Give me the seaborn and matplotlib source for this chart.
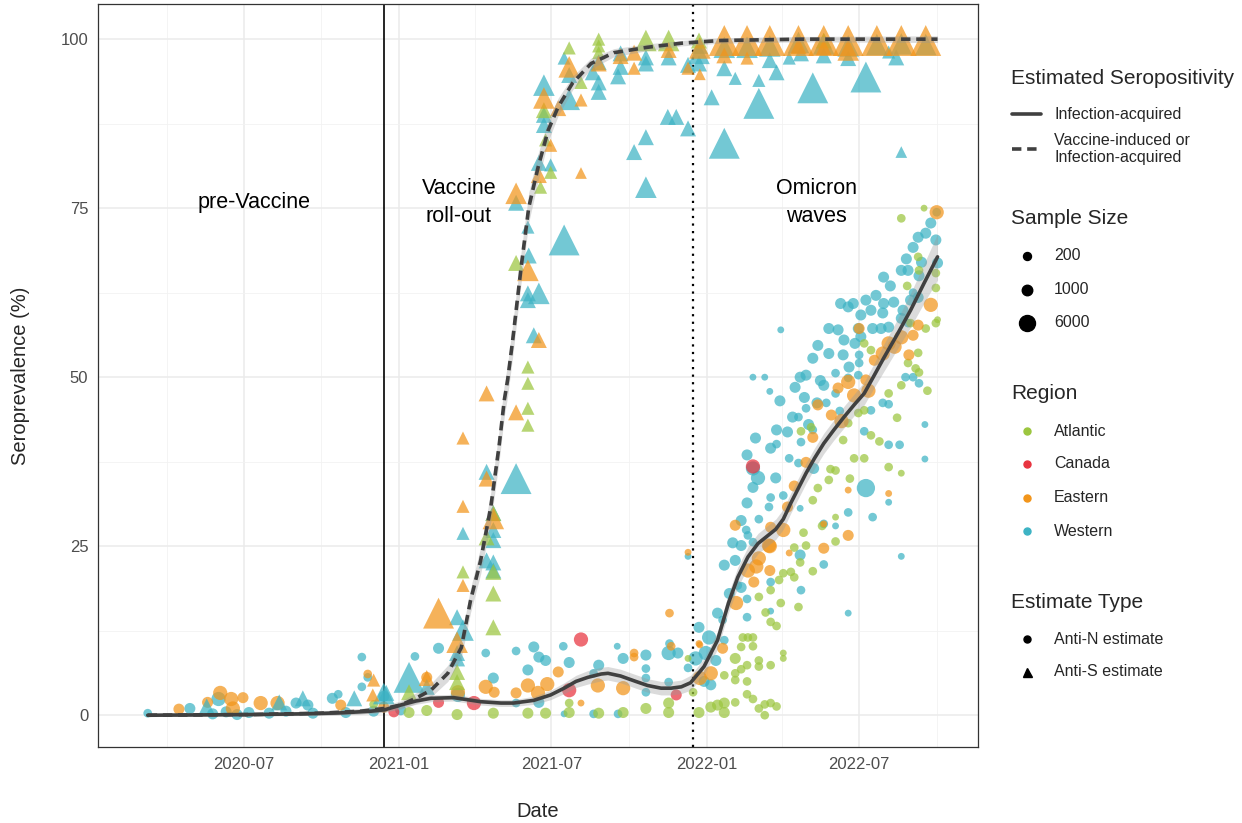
import numpy as np
import pandas as pd
import matplotlib
matplotlib.use("Agg")
import matplotlib.pyplot as plt
import matplotlib.dates as mdates
from matplotlib.colors import PowerNorm
from matplotlib.lines import Line2D
import seaborn as sns

# ------------------------------------------------------------------ data
regions = ["Atlantic", "Canada", "Eastern", "Western"]
region_colors = ["#9CC63F", "#E8343F", "#F2951B", "#3DB3C4"]
estimate_types = ["Anti-N estimate", "Anti-S estimate"]
size_breaks = [200, 1000, 6000]
period_labels = ["pre-Vaccine", "Vaccine\nroll-out", "Omicron\nwaves"]
period_label_dates = ["2020-07-13", "2021-03-13", "2022-05-11"]
vaccine_start = "2020-12-14"
omicron_start = "2021-12-16"

# Western, anti-N
west_n_dates = [
    "2020-03-09", "2020-04-28", "2020-05-25", "2020-06-01", "2020-06-10", "2020-06-23", "2020-07-07",
    "2020-07-31", "2020-08-20", "2020-09-01", "2020-09-15", "2020-09-21", "2020-10-14", "2020-10-21",
    "2020-10-30", "2020-11-18", "2020-11-18", "2020-11-25", "2020-12-02", "2020-12-14", "2021-01-03",
    "2021-01-20", "2021-02-17", "2021-03-12", "2021-04-14", "2021-04-23", "2021-05-20", "2021-05-20",
    "2021-06-03", "2021-06-10", "2021-06-16", "2021-06-16", "2021-06-24", "2021-07-15", "2021-07-22",
    "2021-07-16", "2021-08-20", "2021-08-26", "2021-08-20", "2021-09-18", "2021-09-17", "2021-09-24",
    "2021-10-21", "2021-10-21", "2021-10-21", "2021-10-21", "2021-11-17", "2021-11-18", "2021-11-28",
    "2021-11-17", "2021-12-10", "2021-12-10", "2021-12-23", "2022-01-04", "2021-12-19", "2021-12-31",
    "2021-12-29", "2022-01-06", "2022-01-12", "2022-01-14", "2022-01-22", "2022-01-22", "2022-02-04",
    "2022-02-11", "2022-02-07", "2022-02-11", "2022-01-20", "2022-02-18", "2022-02-18", "2022-03-18",
    "2022-03-18", "2022-04-23", "2022-05-20", "2022-06-18", "2022-04-22", "2022-02-11", "2022-02-17",
    "2022-02-19", "2022-02-25", "2022-03-04", "2022-02-18", "2022-03-18", "2022-04-02", "2022-03-16",
    "2022-02-25", "2022-03-03", "2022-02-25", "2022-02-18", "2022-03-24", "2022-04-09", "2022-04-20",
    "2022-05-08", "2022-03-18", "2022-03-25", "2022-04-23", "2022-05-07", "2022-03-25", "2022-04-07",
    "2022-04-13", "2022-04-20", "2022-04-29", "2022-05-12", "2022-05-23", "2022-06-03", "2022-02-25",
    "2022-03-11", "2022-03-17", "2022-03-30", "2022-04-22", "2022-04-29", "2022-05-20", "2022-06-03",
    "2022-06-18", "2022-06-30", "2022-07-01", "2022-04-22", "2022-05-20", "2022-06-03", "2022-06-18",
    "2022-07-09", "2022-07-17", "2022-08-05", "2022-08-20", "2022-09-17", "2022-09-17", "2022-07-07",
    "2022-07-15", "2022-07-29", "2022-08-05", "2022-08-05", "2022-08-18", "2022-08-25", "2022-09-03",
    "2022-09-10", "2022-05-13", "2022-05-26", "2022-05-07", "2022-06-12", "2022-06-13", "2022-05-26",
    "2022-06-06", "2022-06-19", "2022-07-01", "2022-06-30", "2022-07-03", "2022-07-17", "2022-07-27",
    "2022-08-05", "2022-06-09", "2022-06-18", "2022-06-24", "2022-07-09", "2022-07-21", "2022-07-30",
    "2022-08-11", "2022-07-29", "2022-07-15", "2022-07-03", "2022-08-20", "2022-08-22", "2022-08-28",
    "2022-08-31", "2022-09-09", "2022-07-30", "2022-08-07", "2022-08-20", "2022-08-28", "2022-09-10",
    "2022-09-03", "2022-09-09", "2022-09-18", "2022-09-24", "2022-09-30", "2022-10-02", "2022-10-01",
    "2022-09-03", "2022-04-27", "2022-05-02", "2022-05-16", "2022-06-08", "2022-03-29", "2022-04-16",
    "2022-06-26", "2022-08-26", "2022-09-13", "2022-02-28", "2022-01-28", "2022-02-01"]
west_n_vals = [
    0.3, 1.0, 0.2, 2.4, 0.5, 0.1, 0.4,
    0.3, 0.6, 1.8, 1.5, 0.3, 2.5, 3.1,
    0.4, 8.6, 4.2, 5.6, 0.6, 2.8, 0.8,
    8.7, 9.9, 3.0, 9.2, 5.5, 9.5, 1.8,
    6.7, 10.1, 8.6, 1.9, 8.1, 10.2, 7.8,
    0.2, 6.2, 7.4, 0.2, 0.2, 10.2, 8.4,
    8.9, 6.9, 5.5, 3.4, 9.2, 10.6, 9.2,
    4.9, 7.0, 23.5, 13.0, 11.5, 8.4, 9.2,
    5.0, 4.5, 8.1, 15.1, 11.1, 22.2, 22.9,
    25.1, 19.2, 18.9, 14.1, 17.2, 14.5, 19.7,
    15.4, 18.5, 22.3, 15.1, 23.7, 28.8, 27.4,
    26.6, 25.6, 29.0, 31.4, 32.2, 32.5, 30.8,
    33.7, 35.1, 36.5, 38.5, 35.1, 38.0, 37.3,
    36.5, 39.5, 40.1, 40.4, 42.2, 42.2, 41.9,
    44.1, 44.1, 45.4, 46.2, 46.2, 47.6, 50.0,
    50.0, 47.9, 57.0, 50.0, 50.3, 48.8, 50.6,
    49.9, 50.3, 52.1, 30.6, 28.3, 28.0, 30.0,
    33.6, 29.3, 31.5, 23.5, 43.0, 37.9, 42.0,
    45.1, 46.2, 46.0, 40.0, 40.0, 50.0, 50.0,
    49.1, 54.7, 53.5, 52.8, 53.3, 55.5, 57.2,
    57.0, 51.5, 53.3, 57.2, 56.0, 57.2, 57.2,
    57.4, 60.9, 60.4, 60.9, 61.4, 62.1, 60.9,
    61.1, 59.5, 59.9, 59.2, 58.7, 59.9, 58.0,
    61.4, 61.8, 64.8, 63.5, 65.8, 65.8, 65.0,
    69.2, 70.7, 71.3, 72.8, 70.3, 66.9, 74.4,
    62.5, 47.0, 43.0, 49.5, 45.0, 46.5, 48.5,
    55.0, 67.5, 67.0, 41.0, 18.0, 25.5]
west_n_size = [
    400, 1000, 1000, 2500, 1000, 1000, 1000,
    1000, 1000, 1000, 1000, 1000, 1000, 400,
    1000, 400, 400, 400, 1000, 1000, 1000,
    400, 1000, 2500, 400, 1000, 400, 400,
    1000, 1000, 1000, 1000, 1000, 400, 1000,
    150, 400, 1000, 400, 400, 150, 1000,
    1000, 400, 400, 400, 2500, 400, 1000,
    400, 400, 150, 1000, 2500, 2500, 2500,
    1000, 1000, 1000, 1000, 400, 1000, 1000,
    1000, 400, 1000, 400, 400, 400, 400,
    150, 400, 400, 150, 1000, 1000, 400,
    400, 400, 400, 1000, 400, 400, 400,
    1000, 2500, 2500, 1000, 1000, 400, 400,
    1000, 1000, 400, 400, 400, 1000, 1000,
    1000, 400, 400, 1000, 400, 400, 150,
    150, 150, 150, 1000, 1000, 1000, 400,
    400, 400, 400, 150, 400, 150, 400,
    6000, 400, 150, 150, 150, 150, 400,
    400, 400, 400, 400, 400, 400, 400,
    400, 1000, 1000, 1000, 1000, 1000, 1000,
    1000, 1000, 400, 1000, 1000, 1000, 1000,
    1000, 1000, 1000, 1000, 1000, 1000, 1000,
    1000, 1000, 1000, 1000, 1000, 1000, 400,
    1000, 1000, 1000, 1000, 1000, 1000, 1000,
    1000, 1000, 1000, 1000, 1000, 1000, 400,
    400, 1000, 1000, 1000, 400, 1000, 1000,
    1000, 1000, 1000, 1000, 1000, 1000]

# Eastern, anti-N
east_n_dates = [
    "2020-04-15", "2020-05-19", "2020-06-03", "2020-06-16", "2020-06-18", "2020-06-30", "2020-07-21",
    "2020-08-10", "2020-10-24", "2020-11-25", "2020-12-14", "2021-02-03", "2021-03-12", "2021-04-14",
    "2021-04-24", "2021-05-20", "2021-06-03", "2021-06-15", "2021-06-26", "2021-07-09", "2021-08-05",
    "2021-08-25", "2021-09-24", "2021-10-07", "2021-10-07", "2021-11-18", "2021-11-20", "2021-12-10",
    "2021-12-24", "2021-12-24", "2022-01-06", "2021-12-23", "2022-01-20", "2022-02-05", "2022-02-19",
    "2022-02-26", "2022-03-04", "2022-03-17", "2022-03-17", "2022-02-04", "2022-03-18", "2022-04-02",
    "2022-03-16", "2022-04-07", "2022-04-15", "2022-04-29", "2022-05-07", "2022-05-13", "2022-05-29",
    "2022-06-06", "2022-06-18", "2022-06-25", "2022-07-09", "2022-04-09", "2022-05-20", "2022-06-18",
    "2022-05-20", "2022-06-18", "2022-08-05", "2022-07-19", "2022-07-29", "2022-08-05", "2022-08-20",
    "2022-08-29", "2022-09-03", "2022-09-09", "2022-09-24", "2022-10-01", "2022-07-01", "2022-06-10",
    "2022-07-12", "2022-08-12", "2022-03-01"]
east_n_vals = [
    0.9, 1.9, 3.3, 2.4, 1.0, 2.6, 1.8,
    1.8, 1.5, 6.1, 1.2, 5.6, 3.4, 4.2,
    3.4, 3.3, 4.4, 3.3, 4.6, 6.4, 1.8,
    4.4, 4.0, 9.2, 8.6, 15.1, 10.2, 24.1,
    5.5, 10.4, 6.2, 10.6, 9.9, 16.6, 21.4,
    19.7, 23.2, 21.4, 25.0, 28.1, 27.8, 27.4,
    25.1, 30.8, 33.9, 37.4, 41.1, 45.9, 44.4,
    48.4, 49.3, 47.3, 49.6, 24.0, 24.7, 26.6,
    28.3, 33.3, 32.8, 52.5, 53.5, 55.0, 55.9,
    53.3, 56.2, 57.7, 60.7, 74.4, 57.2, 43.5,
    48.0, 54.5, 22.0]
east_n_size = [
    1000, 1000, 2500, 2500, 2500, 1000, 2500,
    2500, 1000, 400, 1000, 1000, 2500, 2500,
    1000, 1000, 2500, 2500, 2500, 1000, 150,
    2500, 2500, 400, 400, 400, 400, 150,
    2500, 150, 2500, 150, 1000, 2500, 2500,
    1000, 2500, 1000, 2500, 1000, 1000, 2500,
    2500, 1000, 1000, 1000, 1000, 1000, 1000,
    1000, 2500, 2500, 1000, 150, 1000, 1000,
    150, 150, 150, 1000, 2500, 2500, 2500,
    1000, 1000, 1000, 2500, 2500, 1000, 2500,
    2500, 2500, 2500]

# Canada, anti-N
canada_n_dates = ["2020-12-26", "2021-02-17", "2021-03-31", "2021-07-22", "2021-08-05", "2021-11-26", "2022-02-25"]
canada_n_vals = [0.5, 1.9, 1.8, 3.7, 11.2, 3.0, 36.8]
canada_n_size = [1000, 1000, 2500, 2500, 2500, 1000, 2500]

# Atlantic, anti-N
atl_n_dates = [
    "2020-12-02", "2021-01-13", "2021-02-03", "2021-03-11", "2021-04-23", "2021-06-03", "2021-06-24",
    "2021-07-22", "2021-07-22", "2021-08-26", "2021-09-24", "2021-10-21", "2021-11-17", "2021-11-17",
    "2021-12-16", "2021-12-23", "2021-12-10", "2022-01-06", "2022-01-14", "2022-01-22", "2022-01-22",
    "2022-02-04", "2022-02-18", "2022-02-25", "2022-03-11", "2022-03-04", "2022-03-18", "2022-03-25",
    "2022-03-11", "2022-01-22", "2022-02-04", "2022-02-04", "2022-02-18", "2022-02-04", "2022-02-11",
    "2022-02-18", "2022-03-04", "2022-03-04", "2022-03-18", "2022-04-02", "2022-04-02", "2022-02-13",
    "2022-02-19", "2022-02-25", "2022-02-25", "2022-02-11", "2022-03-04", "2022-03-18", "2022-03-28",
    "2022-04-02", "2022-04-11", "2022-04-15", "2022-03-30", "2022-04-20", "2022-03-12", "2022-03-18",
    "2022-03-25", "2022-04-15", "2022-04-29", "2022-05-07", "2022-04-22", "2022-04-23", "2022-05-05",
    "2022-05-28", "2022-06-03", "2022-05-13", "2022-05-07", "2022-05-26", "2022-06-03", "2022-06-03",
    "2022-06-12", "2022-06-18", "2022-06-25", "2022-07-07", "2022-06-30", "2022-07-07", "2022-07-15",
    "2022-08-05", "2022-08-20", "2022-08-05", "2022-08-20", "2022-08-28", "2022-09-10", "2022-09-06",
    "2022-07-07", "2022-07-15", "2022-09-09", "2022-08-31", "2022-09-18", "2022-09-30", "2022-08-27",
    "2022-09-30", "2022-09-30", "2022-09-09", "2022-09-10", "2022-08-20", "2022-09-16", "2022-10-02",
    "2022-06-20", "2022-07-25", "2022-08-15", "2022-09-20", "2022-05-18", "2022-04-26"]
atl_n_vals = [
    1.6, 0.4, 0.7, 0.1, 0.3, 0.3, 0.3,
    0.4, 1.8, 0.3, 0.4, 1.0, 0.4, 1.8,
    3.4, 0.4, 8.4, 1.2, 1.5, 1.8, 0.4,
    1.9, 3.1, 2.4, 1.6, 1.0, 1.8, 1.3,
    0.0, 5.9, 6.2, 5.2, 5.0, 8.4, 6.8,
    7.4, 8.1, 7.2, 7.4, 9.2, 8.4, 11.5,
    11.5, 11.5, 10.2, 10.1, 17.5, 18.5, 20.0,
    21.0, 21.2, 20.4, 16.6, 16.0, 15.2, 13.8,
    13.2, 24.8, 25.1, 21.3, 22.6, 42.0, 42.6,
    36.4, 36.2, 33.6, 31.8, 34.8, 29.3, 25.7,
    40.7, 43.2, 38.0, 38.0, 44.7, 45.1, 41.4,
    36.7, 35.8, 47.6, 48.8, 52.1, 50.7, 51.3,
    55.0, 54.0, 53.6, 58.0, 57.2, 58.0, 63.5,
    65.4, 63.2, 67.8, 65.8, 73.5, 75.0, 58.5,
    35.0, 40.5, 44.0, 48.0, 28.0, 27.0]
atl_n_size = [
    400, 1000, 1000, 1000, 1000, 1000, 1000,
    1000, 400, 1000, 1000, 1000, 1000, 1000,
    400, 1000, 150, 1000, 1000, 1000, 1000,
    400, 400, 400, 400, 400, 400, 400,
    400, 400, 400, 400, 400, 1000, 400,
    400, 400, 400, 400, 150, 150, 400,
    400, 400, 400, 400, 400, 400, 400,
    400, 400, 400, 400, 400, 400, 400,
    400, 400, 400, 400, 400, 400, 400,
    400, 400, 400, 400, 400, 150, 400,
    400, 400, 400, 400, 400, 400, 400,
    400, 150, 400, 400, 400, 400, 400,
    400, 400, 400, 400, 400, 400, 400,
    400, 400, 400, 400, 400, 150, 150,
    400, 400, 400, 400, 400, 400]

# Western, anti-S
west_s_dates = [
    "2020-05-18", "2020-08-12", "2020-09-09", "2020-11-09", "2020-12-14", "2020-12-17", "2021-01-13",
    "2021-02-03", "2021-03-11", "2021-03-18", "2021-03-11", "2021-03-11", "2021-03-18", "2021-04-15",
    "2021-05-20", "2021-04-23", "2021-04-23", "2021-04-23", "2021-04-15", "2021-04-23", "2021-04-23",
    "2021-06-10", "2021-06-03", "2021-06-16", "2021-06-03", "2021-06-04", "2021-07-16", "2021-06-03",
    "2021-05-20", "2021-06-16", "2021-06-30", "2021-06-22", "2021-06-22", "2021-06-22", "2021-07-22",
    "2021-07-22", "2021-07-16", "2021-08-19", "2021-08-26", "2021-08-26", "2021-08-26", "2021-09-21",
    "2021-09-21", "2021-09-18", "2021-10-21", "2021-10-21", "2021-11-17", "2021-12-10", "2021-11-16",
    "2021-11-26", "2021-12-10", "2021-10-21", "2021-10-07", "2021-10-21", "2021-12-23", "2021-12-23",
    "2021-12-24", "2022-01-22", "2022-02-18", "2022-03-17", "2022-04-20", "2022-05-20", "2022-06-18",
    "2022-07-22", "2022-08-20", "2022-09-18", "2022-01-22", "2022-03-17", "2022-03-25", "2022-04-09",
    "2022-04-23", "2022-05-20", "2022-06-18", "2022-08-05", "2022-08-14", "2022-02-04", "2022-03-04",
    "2022-05-07", "2022-07-09", "2022-03-04", "2022-01-07", "2022-01-22", "2022-08-20"]
west_s_vals = [
    1.3, 1.9, 2.5, 2.5, 3.2, 3.3, 5.6,
    4.2, 14.5, 12.6, 9.2, 8.4, 26.9, 36.0,
    35.0, 29.9, 27.4, 25.9, 22.9, 22.6, 21.4,
    56.2, 62.4, 62.4, 61.4, 68.0, 70.3, 72.2,
    75.8, 81.7, 81.4, 87.3, 88.8, 93.2, 91.1,
    94.7, 97.2, 95.1, 93.6, 92.2, 96.6, 97.9,
    95.9, 94.5, 97.3, 96.4, 97.3, 96.2, 88.5,
    88.5, 86.8, 85.5, 83.3, 78.1, 97.9, 96.4,
    99.0, 98.8, 98.8, 99.0, 99.5, 99.3, 99.0,
    99.2, 99.3, 99.2, 95.7, 96.9, 95.1, 97.2,
    97.9, 97.6, 97.2, 98.1, 97.3, 94.2, 93.9,
    92.8, 94.4, 90.5, 91.4, 84.6, 83.3]
west_s_size = [
    1000, 1000, 1000, 1000, 2500, 1000, 6000,
    1000, 1000, 2500, 1000, 1000, 400, 1000,
    6000, 1000, 1000, 1000, 1000, 1000, 1000,
    1000, 1000, 2500, 1000, 1000, 6000, 400,
    1000, 1000, 400, 1000, 1000, 2500, 2500,
    1000, 400, 1000, 1000, 1000, 1000, 1000,
    1000, 1000, 1000, 1000, 1000, 1000, 1000,
    1000, 1000, 1000, 1000, 2500, 2500, 1000,
    1000, 2500, 2500, 2500, 2500, 2500, 2500,
    2500, 2500, 2500, 1000, 1000, 1000, 400,
    1000, 1000, 1000, 400, 1000, 400, 400,
    6000, 6000, 6000, 1000, 6000, 150]

# Eastern, anti-S
east_s_dates = [
    "2020-12-02", "2020-12-01", "2021-02-03", "2021-02-17", "2021-03-11", "2021-03-18", "2021-03-18",
    "2021-03-18", "2021-04-15", "2021-04-15", "2021-04-23", "2021-05-20", "2021-05-20", "2021-06-03",
    "2021-06-16", "2021-06-16", "2021-06-30", "2021-07-09", "2021-06-22", "2021-07-22", "2021-08-05",
    "2021-08-05", "2021-08-26", "2021-09-21", "2021-10-07", "2021-10-07", "2021-11-17", "2021-12-10",
    "2021-12-24", "2021-12-24", "2022-01-22", "2022-02-18", "2022-03-17", "2022-04-20", "2022-05-20",
    "2022-06-18", "2022-07-22", "2022-08-20", "2022-09-18", "2022-01-22", "2022-02-18", "2022-04-20",
    "2022-05-20", "2022-06-18"]
east_s_vals = [
    5.2, 3.0, 5.5, 15.1, 10.8, 41.0, 30.9,
    19.2, 47.6, 35.0, 29.1, 44.8, 77.2, 65.8,
    55.5, 79.9, 84.3, 89.8, 91.3, 95.9, 91.0,
    80.2, 96.4, 97.5, 95.7, 98.0, 98.4, 95.7,
    94.8, 98.7, 99.8, 99.8, 99.8, 99.8, 99.8,
    99.8, 99.8, 99.8, 99.8, 97.6, 97.2, 99.0,
    98.8, 98.4]
east_s_size = [
    400, 400, 1000, 6000, 2500, 400, 400,
    400, 1000, 1000, 2500, 1000, 2500, 2500,
    1000, 1000, 400, 1000, 2500, 2500, 400,
    150, 1000, 1000, 400, 1000, 1000, 400,
    150, 2500, 6000, 6000, 6000, 6000, 6000,
    6000, 6000, 6000, 6000, 1000, 400, 1000,
    1000, 2500]

# Atlantic, anti-S
atl_s_dates = [
    "2021-01-13", "2021-03-11", "2021-03-11", "2021-03-18", "2021-04-15", "2021-04-23", "2021-04-23",
    "2021-04-23", "2021-04-23", "2021-06-03", "2021-06-03", "2021-06-03", "2021-06-03", "2021-05-20",
    "2021-06-18", "2021-06-30", "2021-06-24", "2021-06-22", "2021-07-22", "2021-08-05", "2021-08-26",
    "2021-08-26", "2021-08-26", "2021-10-21", "2021-11-17", "2021-12-23", "2022-05-20"]
atl_s_vals = [
    3.4, 6.4, 4.9, 21.2, 26.3, 21.2, 18.0,
    13.0, 29.9, 49.1, 51.5, 45.4, 42.9, 66.9,
    78.1, 80.3, 85.1, 89.5, 98.7, 93.6, 100.0,
    99.0, 98.0, 99.8, 99.8, 99.8, 99.8]
atl_s_size = [
    1000, 1000, 1000, 400, 1000, 1000, 1000,
    1000, 1000, 400, 400, 400, 400, 1000,
    400, 400, 400, 1000, 400, 400, 400,
    400, 400, 2500, 2500, 1000, 1000]

# Smoothed fits with half-width of the grey bands
infection_fit_dates = [
    "2020-03-09", "2020-05-11", "2020-07-09", "2020-09-07", "2020-10-24", "2020-11-29", "2020-12-15",
    "2021-01-03", "2021-01-21", "2021-02-08", "2021-03-07", "2021-04-08", "2021-05-02", "2021-05-17",
    "2021-06-10", "2021-06-30", "2021-07-16", "2021-07-30", "2021-08-13", "2021-08-29", "2021-09-06",
    "2021-09-21", "2021-10-09", "2021-10-23", "2021-11-08", "2021-11-20", "2021-12-02", "2021-12-13",
    "2021-12-29", "2022-01-14", "2022-01-27", "2022-02-07", "2022-02-19", "2022-03-03", "2022-03-15",
    "2022-03-24", "2022-04-02", "2022-04-11", "2022-04-20", "2022-04-29", "2022-05-09", "2022-05-20",
    "2022-06-01", "2022-06-13", "2022-06-25", "2022-07-07", "2022-07-19", "2022-07-30", "2022-08-16",
    "2022-08-31", "2022-09-16", "2022-10-02"]
infection_fit = [
    0.0, 0.05, 0.1, 0.2, 0.35, 0.6, 0.8,
    1.5, 2.1, 2.5, 2.6, 2.0, 1.8, 1.8,
    2.2, 3.0, 4.0, 5.0, 5.6, 6.1, 6.2,
    5.8, 5.0, 4.4, 4.0, 4.0, 4.2, 4.8,
    7.2, 11.1, 16.6, 20.4, 23.4, 25.4, 26.6,
    27.5, 29.0, 31.4, 33.6, 35.8, 38.0, 40.2,
    42.2, 44.1, 45.9, 47.6, 50.3, 52.8, 56.5,
    59.9, 63.9, 67.8]
infection_se = [
    0.2, 0.2, 0.2, 0.25, 0.3, 0.35, 0.4,
    0.45, 0.5, 0.5, 0.5, 0.5, 0.5, 0.5,
    0.6, 0.7, 0.8, 0.9, 1.0, 1.0, 1.0,
    1.0, 1.0, 1.0, 1.0, 1.0, 1.0, 1.1,
    1.2, 1.3, 1.4, 1.5, 1.5, 1.5, 1.5,
    1.5, 1.5, 1.5, 1.5, 1.5, 1.5, 1.5,
    1.5, 1.6, 1.6, 1.7, 1.8, 2.0, 2.2,
    2.5, 2.9, 3.4]
vaccine_fit_dates = [
    "2020-03-09", "2020-07-09", "2020-09-30", "2020-11-17", "2020-12-15", "2021-01-03", "2021-01-21",
    "2021-02-08", "2021-02-28", "2021-03-16", "2021-03-27", "2021-04-08", "2021-04-20", "2021-04-30",
    "2021-05-06", "2021-05-10", "2021-05-16", "2021-05-26", "2021-06-04", "2021-06-15", "2021-06-27",
    "2021-07-09", "2021-07-26", "2021-08-17", "2021-09-13", "2021-10-23", "2021-12-02", "2021-12-25",
    "2022-01-18", "2022-03-06", "2022-04-23", "2022-10-02"]
vaccine_fit = [
    0.0, 0.1, 0.3, 0.6, 1.0, 1.5, 2.5,
    3.7, 6.2, 10.0, 17.0, 22.9, 30.8, 40.0,
    46.6, 49.6, 55.5, 66.3, 75.1, 81.0, 86.5,
    90.0, 93.5, 96.4, 98.0, 98.8, 99.4, 99.6,
    99.8, 99.9, 100.0, 100.0]
vaccine_se = [
    0.2, 0.2, 0.3, 0.4, 0.5, 0.6, 0.8,
    1.0, 1.2, 1.5, 1.8, 2.0, 2.2, 2.3,
    2.4, 2.4, 2.4, 2.3, 2.2, 2.0, 1.6,
    1.3, 1.0, 0.8, 0.6, 0.5, 0.4, 0.4,
    0.4, 0.4, 0.4, 0.5]

# ------------------------------------------------------------------ frame
def group(dates, vals, sizes, region, etype):
    return pd.DataFrame({"date": pd.to_datetime(dates), "value": vals, "n": sizes,
                         "region": region, "type": etype})

df = pd.concat([
    group(west_n_dates, west_n_vals, west_n_size, "Western", estimate_types[0]),
    group(atl_n_dates, atl_n_vals, atl_n_size, "Atlantic", estimate_types[0]),
    group(east_n_dates, east_n_vals, east_n_size, "Eastern", estimate_types[0]),
    group(canada_n_dates, canada_n_vals, canada_n_size, "Canada", estimate_types[0]),
    group(west_s_dates, west_s_vals, west_s_size, "Western", estimate_types[1]),
    group(atl_s_dates, atl_s_vals, atl_s_size, "Atlantic", estimate_types[1]),
    group(east_s_dates, east_s_vals, east_s_size, "Eastern", estimate_types[1]),
], ignore_index=True)

palette = dict(zip(regions, region_colors))

# ------------------------------------------------------------------ style
sns.set_style("white")
plt.rcParams["font.family"] = ["Liberation Sans", "DejaVu Sans"]

W, H = 1242, 823
fig = plt.figure(figsize=(W / 100, H / 100), dpi=100)
L, R, T, B = 98, 978, 4, 747
ax = fig.add_axes([L / W, 1 - B / H, (R - L) / W, (B - T) / H])

# grid
ax.set_xlim(pd.Timestamp("2020-01-10"), pd.Timestamp("2022-11-19"))
ax.set_ylim(-4.7, 105.2)
ax.set_yticks([0, 25, 50, 75, 100])
ax.set_yticks([12.5, 37.5, 62.5, 87.5], minor=True)
ax.set_xticks(pd.to_datetime(["2020-07-01", "2021-01-01", "2021-07-01", "2022-01-01", "2022-07-01"]))
ax.set_xticks(pd.to_datetime(["2020-04-01", "2020-10-01", "2021-04-01", "2021-10-01",
                              "2022-04-01", "2022-10-01"]), minor=True)
ax.xaxis.set_major_formatter(mdates.DateFormatter("%Y-%m"))
ax.grid(which="major", color="#EBEBEB", lw=1.1, zorder=0)
ax.grid(which="minor", color="#F2F2F2", lw=0.6, zorder=0)
ax.set_axisbelow(True)
ax.tick_params(which="major", length=4, width=0.9, color="#333333", labelcolor="#4D4D4D",
               labelsize=12, pad=3)
ax.tick_params(which="minor", length=0)
for s in ax.spines.values():
    s.set_color("#333333")
    s.set_linewidth(0.9)

# period markers
ax.axvline(pd.Timestamp(vaccine_start), color="black", lw=1.2, zorder=2)
ax.axvline(pd.Timestamp(omicron_start), color="black", lw=1.6, ls=(0, (1, 2.4)), zorder=2)

# points (marker area grows with sample size^0.6)
circ = df[df["type"] == estimate_types[0]]
tri = df[df["type"] == estimate_types[1]]
sns.scatterplot(data=circ, x="date", y="value", hue="region", palette=palette, hue_order=regions,
                size="n", sizes=(6, 205), size_norm=PowerNorm(0.6, vmin=0, vmax=8000),
                marker="o", alpha=0.72, linewidth=0, legend=False, ax=ax, zorder=3)
sns.scatterplot(data=tri, x="date", y="value", hue="region", palette=palette, hue_order=regions,
                size="n", sizes=(60, 640), size_norm=(0, 8000), marker="^", alpha=0.72,
                linewidth=0, legend=False, ax=ax, zorder=3)

# smoothed fits
inf_d = pd.to_datetime(infection_fit_dates)
vac_d = pd.to_datetime(vaccine_fit_dates)
inf_y = np.array(infection_fit)
vac_y = np.array(vaccine_fit)
ax.fill_between(vac_d, vac_y - np.array(vaccine_se), vac_y + np.array(vaccine_se),
                color="#999999", alpha=0.35, lw=0, zorder=4)
ax.fill_between(inf_d, inf_y - np.array(infection_se), inf_y + np.array(infection_se),
                color="#999999", alpha=0.35, lw=0, zorder=4)
sns.lineplot(x=inf_d, y=inf_y, color="#404040", lw=2.6, ax=ax, zorder=5)
sns.lineplot(x=vac_d, y=vac_y, color="#404040", lw=2.6, ax=ax, zorder=5)
ax.lines[-1].set_dashes([2.6, 1.6])

# period labels
for lab, d in zip(period_labels, period_label_dates):
    ax.text(pd.Timestamp(d), 75.8, lab, ha="center", va="center", fontsize=15.5,
            linespacing=1.45, color="black", zorder=6)

ax.set_xlabel("Date", fontsize=14.5, labelpad=22)
ax.set_ylabel("Seroprevalence (%)", fontsize=14.5, labelpad=22)

# ------------------------------------------------------------------ legend (ggplot style)
def fx(px):
    return px / W

def fy(py):
    return 1 - py / H

title_fs, lab_fs = 15, 11.5
kx, lx, tx = 1027, 1054, 1011

fig.text(fx(tx), fy(78), "Estimated Seropositivity", fontsize=title_fs, va="center")
fig.add_artist(Line2D([fx(1012), fx(1041)], [fy(114), fy(114)], color="#404040", lw=2.6,
                      transform=fig.transFigure))
dl = Line2D([fx(1012), fx(1041)], [fy(149), fy(149)], color="#404040", lw=2.6,
            transform=fig.transFigure)
dl.set_dashes([2.6, 1.6])
fig.add_artist(dl)
fig.text(fx(lx), fy(114), "Infection-acquired", fontsize=lab_fs, va="center")
fig.text(fx(lx), fy(149), "Vaccine-induced or\nInfection-acquired", fontsize=lab_fs,
         va="center", linespacing=1.15)

fig.text(fx(tx), fy(219), "Sample Size", fontsize=title_fs, va="center")
for n, y, d in zip(size_breaks, [256, 290, 323], [8, 10.5, 16]):
    fig.add_artist(Line2D([fx(kx)], [fy(y)], marker="o", ms=d * 0.72, color="black", lw=0,
                          transform=fig.transFigure))
    fig.text(fx(lx), fy(y), str(n), fontsize=lab_fs, va="center")

fig.text(fx(tx), fy(394), "Region", fontsize=title_fs, va="center")
for reg, col, y in zip(regions, region_colors, [431, 464, 498, 531]):
    fig.add_artist(Line2D([fx(kx)], [fy(y)], marker="o", ms=7 * 0.72, color=col, lw=0,
                          transform=fig.transFigure))
    fig.text(fx(lx), fy(y), reg, fontsize=lab_fs, va="center")

fig.text(fx(tx), fy(602), "Estimate Type", fontsize=title_fs, va="center")
for et, mk, y, d in zip(estimate_types, ["o", "^"], [639, 672], [7, 9]):
    fig.add_artist(Line2D([fx(kx)], [fy(y)], marker=mk, ms=d * 0.72, color="black", lw=0,
                          transform=fig.transFigure))
    fig.text(fx(lx), fy(y), et, fontsize=lab_fs, va="center")

fig.savefig("out.png", dpi=100)
